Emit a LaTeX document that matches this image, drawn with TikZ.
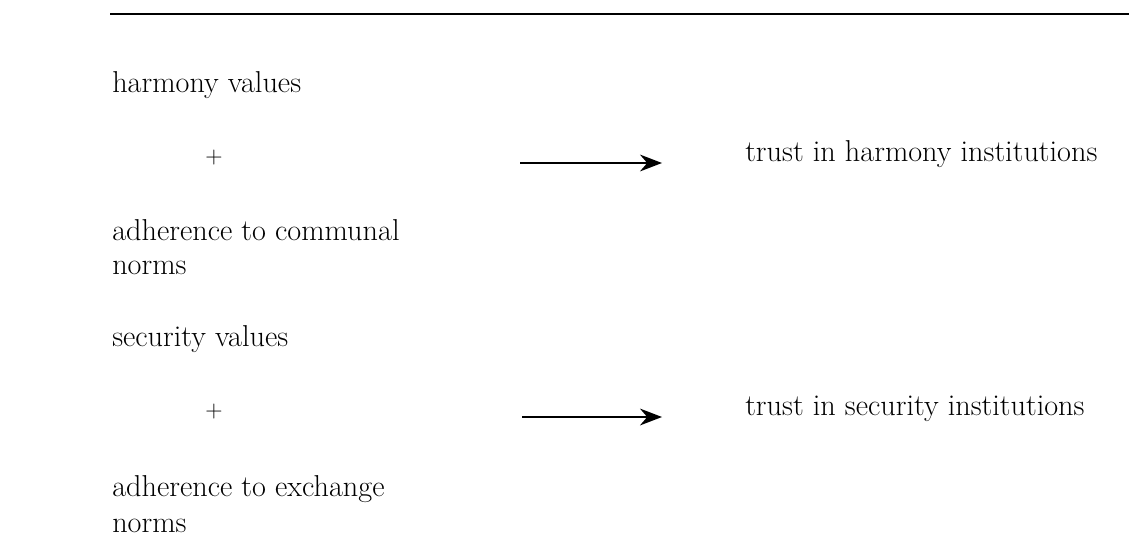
\documentclass[tikz,border=0pt]{standalone}
\usepackage{tikz}
\usetikzlibrary{arrows.meta, positioning}

\begin{document}
\begin{tikzpicture}[x=0.025cm, y=-0.025cm,
    txt/.style={anchor=base west, inner sep=0pt, font=\fontsize{21.5}{25}\selectfont},
    plus/.style={anchor=center, inner sep=0pt, font=\fontsize{17}{20}\selectfont},
    leads/.style={-{Stealth[length=5.5mm, width=4.2mm, inset=1.8mm]}, line width=1.3pt}]
    \useasboundingbox (0,0) rectangle (1129,538);
    \draw[line width=1.4pt] (110,14) -- (1129,14);

    % harmony block
    \node[txt] (harmval) at (112,93) {harmony values};
    \node[plus] (plusA) at (214,158) {+};
    \node[txt] (communal) at (112,240) {adherence to communal};
    \node[txt] (normsA) at (112,274) {norms};
    \coordinate (harmfrom) at (520,163);
    \coordinate (harmto) at (662,163);
    \draw[leads] (harmfrom) -- (harmto);
    \node[txt] (harmtrust) at (745,161) {trust in harmony institutions};

    % security block
    \node[txt] (secval) at (112,346) {security values};
    \node[plus] (plusB) at (214,412) {+};
    \node[txt] (exchange) at (112,496) {adherence to exchange};
    \node[txt] (normsB) at (112,532) {norms};
    \coordinate (secfrom) at (522,417);
    \coordinate (secto) at (662,417);
    \draw[leads] (secfrom) -- (secto);
    \node[txt] (sectrust) at (745,415) {trust in security institutions};
\end{tikzpicture}
\end{document}
